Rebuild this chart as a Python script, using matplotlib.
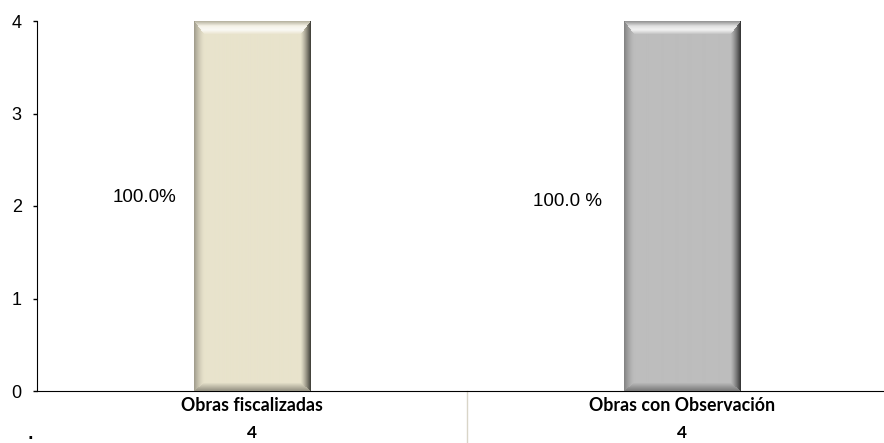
import numpy as np
import matplotlib
matplotlib.use("Agg")
import matplotlib.pyplot as plt
from matplotlib.colors import to_rgb

categories = ["Obras fiscalizadas", "Obras con Observación"]
values = [4, 4]
pct_labels = ["100.0%", "100.0 %"]
table_values = ["4", "4"]
bar_colors = ["#E8E3CC", "#BDBDBD"]
yticks = [0, 1, 2, 3, 4]

W, H, DPI = 884, 443, 100
AX_LEFT, AX_BOTTOM_PX, AX_H_PX = 37, 391, 370
fig = plt.figure(figsize=(W / DPI, H / DPI), dpi=DPI)
ax = fig.add_axes([AX_LEFT / W, (H - AX_BOTTOM_PX) / H, (W - AX_LEFT) / W, AX_H_PX / H])

x = np.arange(len(categories))
bars = ax.bar(x, values, width=0.27, color=bar_colors, zorder=2)
ax.set_xlim(-0.5, 1.47)
ax.set_ylim(0, 4)
ax.set_yticks(yticks)
ax.set_xticks([])
for s in ["top", "right"]:
    ax.spines[s].set_visible(False)
ax.spines["left"].set_bounds(0, 4)
ax.tick_params(axis="y", length=3, width=1, pad=8, labelsize=13)
for lab in ax.get_yticklabels():
    lab.set_family("Liberation Sans")
fig.canvas.draw()


def bevel_image(rgb, w, h, b_top=13, b_side=10, b_bot=8):
    face = np.array(to_rgb(rgb))
    out = np.ones((h, w, 3)) * face
    jj, ii = np.meshgrid(np.arange(w), np.arange(h))
    d = np.stack([jj / b_side, (w - 1 - jj) / b_side,
                  ii / b_top, (h - 1 - ii) / b_bot])
    k = np.argmin(d, axis=0)
    t = np.clip(np.min(d, axis=0), 0, 1)
    white = np.ones(3)
    black = np.zeros(3)
    inside = t < 1
    # left edge
    m = inside & (k == 0)
    a = 0.3 * (1 - t[m]) ** 1.5
    out[m] = face * (1 - a[:, None]) + black * a[:, None]
    # right edge
    m = inside & (k == 1)
    a = 0.7 * (1 - t[m]) ** 1.3
    out[m] = face * (1 - a[:, None]) + black * a[:, None]
    # top edge (highlight)
    m = inside & (k == 2)
    tt = t[m]
    a = 0.8 * np.sin(np.pi * np.clip(tt * 1.3, 0, 1) * 0.5) * (1 - np.clip((tt - 0.65) / 0.35, 0, 1))
    dark = 0.2 * (1 - np.clip(tt * 3, 0, 1))
    col = face * (1 - a[:, None]) + white * a[:, None]
    out[m] = col * (1 - dark[:, None])
    # bottom edge
    m = inside & (k == 3)
    a = 0.35 * (1 - t[m])
    out[m] = face * (1 - a[:, None]) + black * a[:, None]
    return np.clip(out, 0, 1)


for b, c in zip(bars, bar_colors):
    x0, y0 = b.get_x(), b.get_y()
    x1, y1 = x0 + b.get_width(), y0 + b.get_height()
    p0 = ax.transData.transform((x0, y0))
    p1 = ax.transData.transform((x1, y1))
    wpx = int(round(p1[0] - p0[0]))
    hpx = int(round(p1[1] - p0[1]))
    ax.imshow(bevel_image(c, wpx, hpx), extent=(x0, x1, y0, y1),
              aspect="auto", zorder=3, interpolation="bilinear")
ax.set_xlim(-0.5, 1.47)
ax.set_ylim(0, 4)

offsets = [-0.25, -0.265]
yoffs = [0.09, 0.05]
for xi, v, lab, off, yo in zip(x, values, pct_labels, offsets, yoffs):
    ax.text(xi + off, v / 2 + yo, lab, ha="center", va="center",
            fontsize=13.5, family="Liberation Sans", zorder=4)

trans = ax.get_xaxis_transform()
table_y = -((H - 2) - AX_BOTTOM_PX) / AX_H_PX
for xi, cat, tv in zip(x, categories, table_values):
    ax.text(xi, -0.04, cat, transform=trans, ha="center", va="center",
            fontsize=12.8, fontweight="bold", family="Lato", clip_on=False)
    ax.text(xi, table_y, tv, transform=trans, ha="center", va="bottom",
            fontsize=12.5, fontweight="bold", family="Lato", clip_on=False)

ax.plot([0.5, 0.5], [0, -0.2], transform=trans, color="#D9D5C8",
        lw=1, clip_on=False)
fig.text(30 / W, 1 / H, ".", fontsize=11, fontweight="bold",
         ha="center", va="bottom")

fig.savefig("out.png", dpi=DPI)
